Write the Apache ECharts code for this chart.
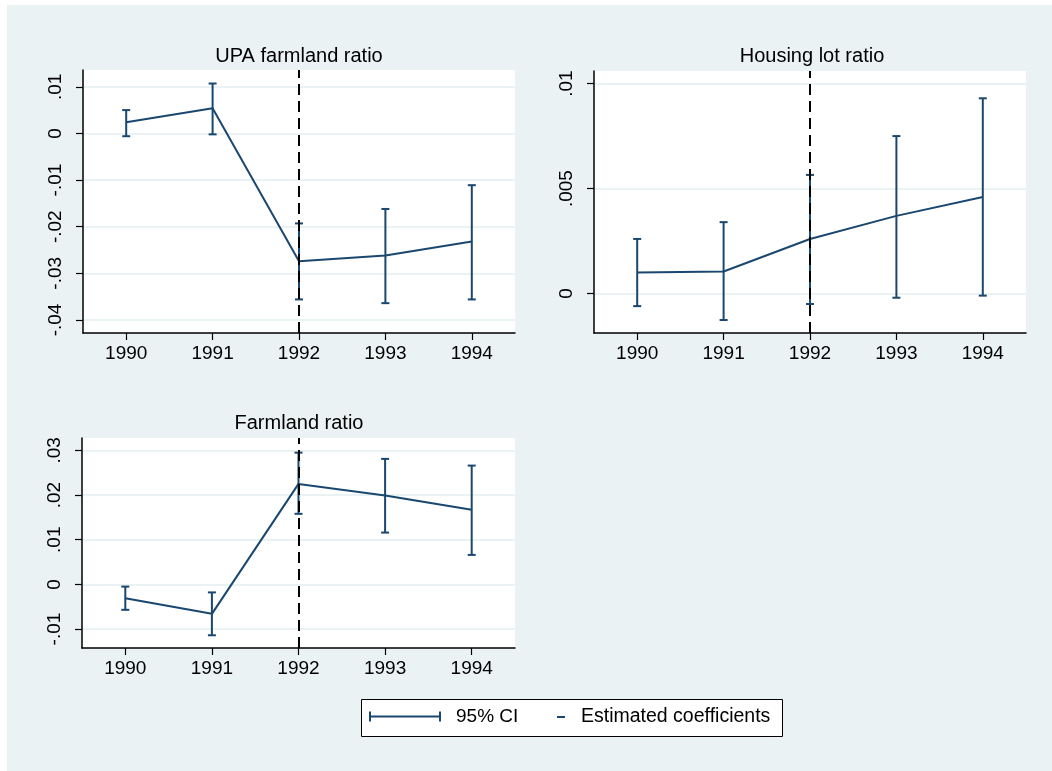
<!DOCTYPE html>
<html>
<head>
<meta charset="utf-8">
<script src="https://cdn.jsdelivr.net/npm/echarts@6/dist/echarts.min.js"></script>
<style>
html,body{margin:0;padding:0;background:#fff;}
#chart{width:1052px;height:771px;}
</style>
</head>
<body>
<div id="chart"></div>
<script>
// ---- data ----
var years = ['1990', '1991', '1992', '1993', '1994'];
var eventYear = '1992';

var upaCoef = [0.0024, 0.0054, -0.0274, -0.0262, -0.0232];
var upaLow  = [-0.0006, -0.0002, -0.0356, -0.0364, -0.0356];
var upaHigh = [0.0050, 0.0107, -0.0193, -0.0162, -0.0111];

var housingCoef = [0.0010, 0.00105, 0.0026, 0.0037, 0.0046];
var housingLow  = [-0.0006, -0.00126, -0.0005, -0.0002, -0.0001];
var housingHigh = [0.0026, 0.0034, 0.00565, 0.0075, 0.0093];

var farmCoef = [-0.0031, -0.0066, 0.0225, 0.0199, 0.0167];
var farmLow  = [-0.0057, -0.0114, 0.0158, 0.0116, 0.0066];
var farmHigh = [-0.0005, -0.0018, 0.0295, 0.0281, 0.0266];

var upaTicks = [-0.04, -0.03, -0.02, -0.01, 0, 0.01];
var upaTickLabels = ['-.04', '-.03', '-.02', '-.01', '0', '.01'];
var housingTicks = [0, 0.005, 0.01];
var housingTickLabels = ['0', '.005', '.01'];
var farmTicks = [-0.01, 0, 0.01, 0.02, 0.03];
var farmTickLabels = ['-.01', '0', '.01', '.02', '.03'];

var panelTitles = ['UPA farmland ratio', 'Housing lot ratio', 'Farmland ratio'];
var upaRange = [-0.0428, 0.0136];
var housingRange = [-0.00188, 0.0106];
var farmRange = [-0.01425, 0.03278];

var legendNames = ['95% CI', 'Estimated coefficients'];

// ---- styles ----
var FONT = "'Liberation Sans', Arial, sans-serif";
var NAVY = '#1a476f';
var BG = '#eaf2f3';
var FS = 19;

var panels = [
  {coef: upaCoef, low: upaLow, high: upaHigh, ticks: upaTicks, labels: upaTickLabels, range: upaRange,
   grid: {left: 83, top: 70, width: 432, height: 263}, title: {x: 299, y: 46}},
  {coef: housingCoef, low: housingLow, high: housingHigh, ticks: housingTicks, labels: housingTickLabels, range: housingRange,
   grid: {left: 594, top: 71, width: 432, height: 262}, title: {x: 812, y: 46}},
  {coef: farmCoef, low: farmLow, high: farmHigh, ticks: farmTicks, labels: farmTickLabels, range: farmRange,
   grid: {left: 82, top: 438, width: 433, height: 210}, title: {x: 299, y: 413}}
];

var grids = [], xAxes = [], yAxes = [], series = [], titles = [];

panels.forEach(function (p, i) {
  grids.push({left: p.grid.left, top: p.grid.top, width: p.grid.width, height: p.grid.height,
    show: true, backgroundColor: '#ffffff', borderWidth: 0, containLabel: false});
  titles.push({text: panelTitles[i], left: p.title.x, top: p.title.y, textAlign: 'center', padding: 0,
    textStyle: {fontFamily: FONT, fontSize: 20, fontWeight: 'normal', color: '#000'}});
  xAxes.push({type: 'category', gridIndex: i, data: years, boundaryGap: true,
    axisLine: {show: true, onZero: false, lineStyle: {color: '#000', width: 1.5}},
    axisTick: {show: true, alignWithLabel: true, length: 7, lineStyle: {color: '#000', width: 1.2}},
    axisLabel: {fontFamily: FONT, fontSize: FS, color: '#000', margin: 11},
    splitLine: {show: false}});
  (function (ticks, labels) {
    yAxes.push({type: 'value', gridIndex: i, min: p.range[0], max: p.range[1], scale: true,
      axisLine: {show: true, onZero: false, lineStyle: {color: '#000', width: 1.5}},
      axisTick: {show: true, length: 7, customValues: ticks, lineStyle: {color: '#000', width: 1.2}},
      axisLabel: {customValues: ticks, rotate: 90, margin: 18, fontFamily: FONT, fontSize: FS, color: '#000',
        formatter: function (v) {
          for (var k = 0; k < ticks.length; k++) { if (Math.abs(v - ticks[k]) < 1e-9) return labels[k]; }
          return '';
        }},
      splitLine: {show: true, lineStyle: {color: BG, width: 2}}});
  })(p.ticks, p.labels);

  var ciData = years.map(function (y, k) { return [k, p.low[k], p.high[k]]; });
  series.push({
    name: legendNames[0], type: 'custom', xAxisIndex: i, yAxisIndex: i,
    itemStyle: {color: NAVY},
    data: ciData,
    renderItem: function (params, api) {
      var lo = api.coord([api.value(0), api.value(1)]);
      var hi = api.coord([api.value(0), api.value(2)]);
      var hw = 4;
      var st = {stroke: NAVY, lineWidth: 2};
      return {type: 'group', children: [
        {type: 'line', shape: {x1: lo[0], y1: lo[1], x2: hi[0], y2: hi[1]}, style: st},
        {type: 'line', shape: {x1: lo[0] - hw, y1: lo[1], x2: lo[0] + hw, y2: lo[1]}, style: st},
        {type: 'line', shape: {x1: hi[0] - hw, y1: hi[1], x2: hi[0] + hw, y2: hi[1]}, style: st}
      ]};
    },
    z: 3
  });
  series.push({
    name: legendNames[1], type: 'line', xAxisIndex: i, yAxisIndex: i,
    data: p.coef, symbol: 'none', showSymbol: false,
    itemStyle: {color: NAVY}, lineStyle: {color: NAVY, width: 2},
    z: 4,
    markLine: {silent: true, symbol: ['none', 'none'], label: {show: false}, z: 6,
      lineStyle: {color: '#000', width: 2, type: [11, 6]},
      data: [{xAxis: eventYear}]}
  });
});

var chart = echarts.init(document.getElementById('chart'), null, {renderer: 'canvas'});
chart.setOption({
  animation: false,
  backgroundColor: '#ffffff',
  title: titles,
  grid: grids,
  xAxis: xAxes,
  yAxis: yAxes,
  legend: [
    {data: [{name: legendNames[0], icon: 'path://M0,0h2v10h-2z M2,4h68v2h-68z M70,0h2v10h-2z'}],
     left: 369, top: 707, padding: 0, itemWidth: 72, itemHeight: 10, selectedMode: false,
     textStyle: {fontFamily: FONT, fontSize: FS, color: '#000', padding: [0, 0, 0, 10]}},
    {data: [{name: legendNames[1], icon: 'rect'}],
     left: 557, top: 707, padding: 0, itemWidth: 8, itemHeight: 2, selectedMode: false,
     textStyle: {fontFamily: FONT, fontSize: 19.5, color: '#000', padding: [0, 0, 0, 11]}}
  ],
  graphic: [
    {type: 'rect', left: 7, top: 5, shape: {width: 1045, height: 766}, style: {fill: BG}, z: -100, silent: true},
    {type: 'rect', left: 361, top: 699, shape: {width: 421, height: 37}, style: {fill: '#fff', stroke: '#000', lineWidth: 1}, z: -50, silent: true}
  ],
  series: series
});
</script>
</body>
</html>
